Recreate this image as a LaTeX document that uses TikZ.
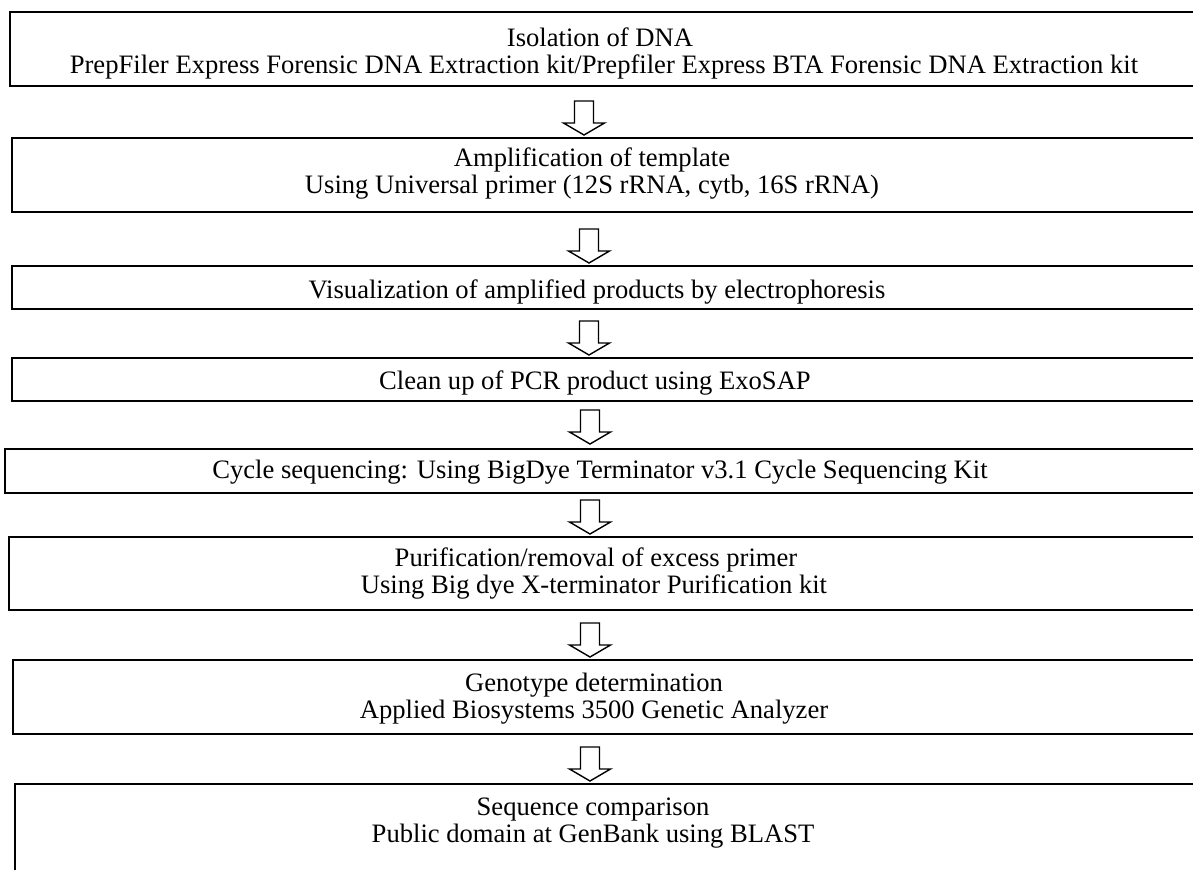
\documentclass[tikz,border=0pt]{standalone}
\usepackage{fontspec}
\setmainfont{Liberation Serif}
\begin{document}
\begin{tikzpicture}[x=0.5pt,y=-0.5pt,
  box/.style={draw, line width=1pt, rectangle, inner sep=0pt, anchor=north west},
  lbl/.style={anchor=base, inner sep=0pt, align=center, font=\fontsize{13.3}{13.5}\selectfont},
  blockarrow/.pic={\draw[line width=0.7pt, line join=miter]
    (-9.5,-17) -- (9.5,-17) -- (9.5,5) -- (20.5,5) -- (0,17) -- (-20.5,5) -- (-9.5,5) -- cycle;}]
\useasboundingbox (0,0) rectangle (1193,869);
\clip (0,0) rectangle (1193,869);
\node[box, minimum width=598pt, minimum height=37pt] (b1) at (9,11) {};
\node[box, minimum width=597pt, minimum height=37pt] (b2) at (11,137) {};
\node[box, minimum width=597pt, minimum height=21.5pt] (b3) at (11,265) {};
\node[box, minimum width=597pt, minimum height=21.5pt] (b4) at (11,357) {};
\node[box, minimum width=600.5pt, minimum height=22pt] (b5) at (4,448) {};
\node[box, minimum width=598.5pt, minimum height=36.5pt] (b6) at (8,536) {};
\node[box, minimum width=596.5pt, minimum height=37pt] (b7) at (12,659) {};
\node[box, minimum width=595.5pt, minimum height=60pt] (b8) at (14,783) {};

\node[lbl] (t1a) at (600,46) {Isolation of DNA};
\node[lbl] (t1b) at (604,73) {PrepFiler Express Forensic DNA Extraction kit/Prepfiler Express BTA Forensic DNA Extraction kit};
\node[lbl] (t2a) at (592,166) {Amplification of template};
\node[lbl] (t2b) at (592,193) {Using Universal primer (12S rRNA, cytb, 16S rRNA)};
\node[lbl] (t3) at (597,298) {Visualization of amplified products by electrophoresis};
\node[lbl] (t4) at (595,389) {Clean up of PCR product using ExoSAP};
\node[lbl] (t5) at (600,478) {Cycle sequencing: Using BigDye Terminator v3.1 Cycle Sequencing Kit};
\node[lbl] (t6a) at (596,566) {Purification/removal of excess primer};
\node[lbl] (t6b) at (594,593) {Using Big dye X-terminator Purification kit};
\node[lbl] (t7a) at (594,691) {Genotype determination};
\node[lbl] (t7b) at (594,718) {Applied Biosystems 3500 Genetic Analyzer};
\node[lbl] (t8a) at (593,815) {Sequence comparison};
\node[lbl] (t8b) at (593,842) {Public domain at GenBank using BLAST};

\coordinate (a1) at (584,118);
\coordinate (a2) at (589,246);
\coordinate (a3) at (589,338);
\coordinate (a4) at (590,427);
\coordinate (a5) at (590,517);
\coordinate (a6) at (590,640);
\coordinate (a7) at (590,764);
\foreach \a in {a1,a2,a3,a4,a5,a6,a7} { \pic at (\a) {blockarrow}; }
\end{tikzpicture}
\end{document}
